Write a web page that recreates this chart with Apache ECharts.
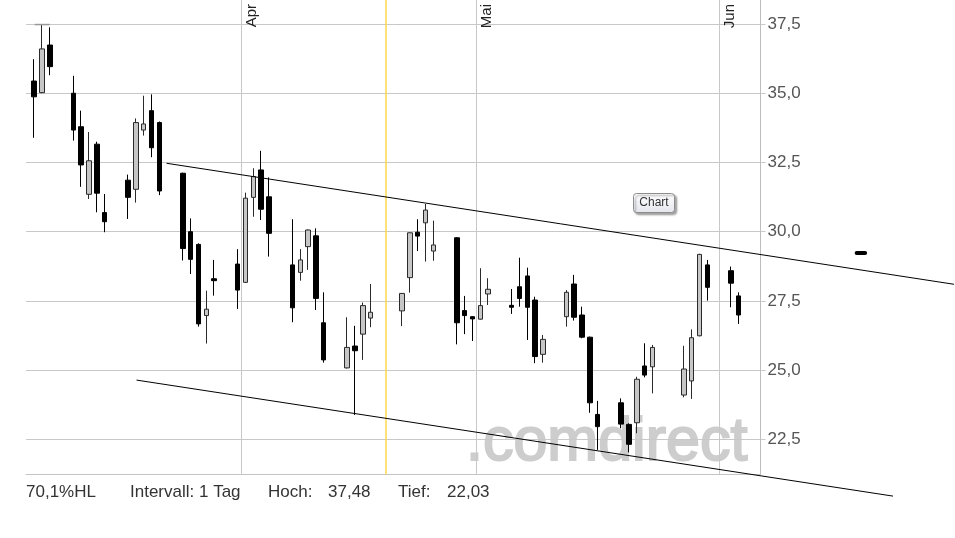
<!DOCTYPE html>
<html><head><meta charset="utf-8">
<script src="https://cdn.jsdelivr.net/npm/echarts@6/dist/echarts.min.js"></script>
<style>html,body{margin:0;padding:0;background:#fff}#c{width:955px;height:538px}</style>
</head><body><div id="c"></div><script>
// ---- data ----
const dates = ['2014-03-05','2014-03-06','2014-03-07',
 '2014-03-10','2014-03-11','2014-03-12','2014-03-13','2014-03-14',
 '2014-03-17','2014-03-18','2014-03-19','2014-03-20','2014-03-21',
 '2014-03-24','2014-03-25','2014-03-26','2014-03-27','2014-03-28',
 '2014-03-31','2014-04-01','2014-04-02','2014-04-03','2014-04-04',
 '2014-04-07','2014-04-08','2014-04-09','2014-04-10','2014-04-11',
 '2014-04-14','2014-04-15','2014-04-16','2014-04-17',
 '2014-04-21','2014-04-22','2014-04-23','2014-04-24','2014-04-25',
 '2014-04-28','2014-04-29','2014-04-30','2014-05-01','2014-05-02',
 '2014-05-05','2014-05-06','2014-05-07','2014-05-08','2014-05-09',
 '2014-05-12','2014-05-13','2014-05-14','2014-05-15','2014-05-16',
 '2014-05-19','2014-05-20','2014-05-21','2014-05-22','2014-05-23',
 '2014-05-27','2014-05-28','2014-05-29','2014-05-30',
 '2014-06-02','2014-06-03'];
const opens  = [35.44,35.02,36.74, 35.00,33.79,31.35,33.16,30.69, 31.86,31.53,33.67,34.37,33.94,
 32.11,30.00,29.54,26.97,28.30, 28.83,28.17,31.24,32.23,31.26, 28.80,28.53,29.46,29.85,26.71,
 25.08,25.87,26.30,26.88, 27.14,28.34,29.98,30.32,29.30, 29.78,27.15,26.93,26.84,27.75,
 27.34,28.01,28.40,27.53,25.57, 26.93,28.11,26.99,26.19,23.40, 23.82,23.04,23.10,25.15,25.12,
 24.10,24.61,26.24,28.80, 28.59,27.68];
const closes = [34.87,36.60,35.96, 33.67,32.41,32.56,31.39,30.36, 31.24,33.94,33.89,33.03,31.47,
 29.39,29.00,26.67,27.20,28.23, 27.89,31.21,31.99,30.81,29.94, 27.25,28.98,30.06,27.59,25.37,
 25.82,25.70,27.33,27.09, 27.77,29.96,29.84,30.78,29.52, 26.71,26.97,26.85,27.33,27.92,
 27.27,27.59,27.27,25.49,26.11, 27.81,26.91,26.19,23.82,22.96, 23.05,22.32,24.67,24.82,25.82,
 25.04,26.17,29.18,27.99, 28.14,26.99];
const lows   = [33.39,35.00,35.65, 33.29,31.62,31.18,30.70,29.98, 30.46,31.05,33.47,32.69,31.32,
 28.96,28.47,26.57,25.96,27.69, 27.21,28.15,30.54,30.42,29.10, 26.73,28.23,28.62,27.17,25.27,
 25.06,23.38,25.37,26.55, 26.59,27.80,29.30,28.92,28.95, 25.93,26.30,26.05,26.83,27.35,
 27.03,27.29,26.09,25.25,25.27, 26.57,26.79,26.15,23.46,22.12, 22.90,22.03,22.72,24.74,24.16,
 24.02,23.96,26.22,27.51, 27.27,26.67];
const highs  = [36.23,37.48,37.38, 35.63,34.37,33.60,33.25,31.36, 32.06,34.09,34.91,34.96,33.98,
 32.13,30.48,29.58,27.87,28.98, 29.37,31.41,32.29,32.92,31.96, 30.45,29.37,30.08,30.12,27.81,
 26.91,26.60,27.44,28.11, 27.78,29.97,30.45,31.00,30.40, 29.80,27.68,26.95,28.68,28.32,
 27.93,29.06,28.70,27.65,26.27, 27.89,28.44,27.29,26.21,23.89, 23.98,23.08,24.76,25.97,25.91,
 25.88,26.47,29.20,28.98, 28.74,27.81];
const monthDates  = ['2014-04-01','2014-05-01','2014-06-01'];
const monthLabels = ['Apr','Mai','Jun'];
const markerDate  = '2014-04-19 10:30';
const upperTrend  = [['2014-03-22 10:00', 32.47], ['2014-07-01 00:40', 28.10]];
const lowerTrend  = [['2014-03-18 14:00', 24.64], ['2014-06-23 05:30', 20.45]];
const drawnDash   = [['2014-06-18 14:00', 29.23], ['2014-06-19 16:00', 29.23]];
const highMark    = [['2014-03-05 14:00', 37.48], ['2014-03-07 12:00', 37.48]];
const footerTexts = ['70,1%HL', 'Intervall: 1 Tag', 'Hoch:', '37,48', 'Tief:', '22,03'];
const watermark   = '.comdirect';

// ---- helpers ----
const DAY = 864e5;
function ts(s){
  const m = s.match(/(\d+)-(\d+)-(\d+)(?:\s+(\d+):(\d+))?/);
  return new Date(+m[1], +m[2]-1, +m[3], +(m[4]||0), +(m[5]||0)).getTime();
}
const apr1 = ts('2014-04-01');
const xMin = apr1 - 27.54*DAY, xMax = apr1 + 66.30*DAY;
const PX = 27.69;                    // pixels per price unit in the reference
const TOP = -20, BOT = 474.5;        // plot top (off-canvas) and bottom edge
const yMin = 37.5 - (BOT - 24) / PX;
const yMax = 37.5 + (24 - TOP) / PX;
const W1 = 734.5, H1 = BOT - TOP;
// overlay plot covering the rest of the canvas, same scale
const W2 = 955 - 26, H2 = 540 - TOP;
const xMax2 = xMin + (xMax - xMin) * W2 / W1;
const yMin2 = yMax - H2 / PX;

const candles = dates.map((d,i)=>[ts(d)+12*3600e3, opens[i], closes[i], lows[i], highs[i]]);
const toPts = arr => arr.map(p=>[ts(p[0]), p[1]]);
const FONT = 'Liberation Sans, Arial, sans-serif';
const footerX = [26, 130, 268, 328, 398, 447];

const chart = echarts.init(document.getElementById('c'), null, {renderer:'canvas'});
chart.setOption({
  animation:false,
  backgroundColor:'#ffffff',
  grid:[{left:26, width:W1, top:TOP, height:H1, containLabel:false, outerBoundsMode:'none'},
        {left:26, width:W2, top:TOP, height:H2, containLabel:false, outerBoundsMode:'none'}],
  xAxis:[{type:'time', gridIndex:0, min:xMin, max:xMax,
    axisLabel:{show:false}, axisTick:{show:false}, splitLine:{show:false},
    axisLine:{show:true, lineStyle:{color:'#c4c4c4', width:1}}},
    {type:'time', gridIndex:1, min:xMin, max:xMax2, show:false}],
  yAxis:[{type:'value', gridIndex:0, position:'right', min:yMin, max:yMax, minInterval:2.5, maxInterval:2.5,
    axisLine:{show:true, lineStyle:{color:'#bdbdbd', width:1}},
    axisTick:{show:true, length:5, lineStyle:{color:'#c8c8c8'}},
    axisLabel:{showMinLabel:false, showMaxLabel:false, margin:7, color:'#555', fontSize:17,
      fontFamily:FONT, formatter:v=>v.toFixed(1).replace('.', ',')},
    splitLine:{show:true, lineStyle:{color:'#c8c8c8', width:1}}},
    {type:'value', gridIndex:1, min:yMin2, max:yMax, show:false, splitLine:{show:false}}],
  graphic:[
    {type:'text', z:0, left:465, top:412, silent:true,
      style:{text:watermark, font:'61px '+FONT, fill:'#cdcdcd', stroke:'#cdcdcd', lineWidth:2}},
    {type:'group', left:633, top:193, z:100, children:[
      {type:'rect', shape:{x:0,y:0,width:41,height:19,r:3},
        style:{fill:new echarts.graphic.LinearGradient(0,0,0,1,[{offset:0,color:'#ffffff'},{offset:1,color:'#e4e6ee'}]),
          stroke:'#8c8c8c', lineWidth:1, shadowBlur:2, shadowOffsetX:2, shadowOffsetY:2, shadowColor:'rgba(0,0,0,0.35)'}},
      {type:'text', x:20.5, y:9.5, style:{text:'Chart', font:'12px '+FONT, fill:'#333', align:'center', verticalAlign:'middle'}}
    ]}
  ].concat(footerTexts.map((t,i)=>({type:'text', x:footerX[i], y:492,
      style:{text:t, font:'17px '+FONT, fill:'#333', verticalAlign:'middle'}}))),
  series:[
    {type:'candlestick', name:'Kurs', xAxisIndex:0, yAxisIndex:0, data:candles, encode:{x:0, y:[1,2,3,4]},
      barWidth:5, silent:true,
      itemStyle:{color:'#c6c6c6', color0:'#000000', borderColor:'#2a2a2a', borderColor0:'#000000', borderWidth:1},
      markLine:{silent:true, symbol:['none','none'], animation:false,
        lineStyle:{color:'#c8c8c8', width:1, type:'solid'},
        label:{show:true, position:'insideEndBottom', formatter:'{b}', color:'#222', fontSize:15, fontFamily:FONT, distance:[24, 3]},
        data: monthDates.map((d,i)=>({name:monthLabels[i], xAxis:ts(d)})).concat([
          {name:'', xAxis:ts(markerDate), lineStyle:{color:'#ffd84d', width:1.5}, label:{show:false}}])
      }},
    {type:'line', name:'oben', xAxisIndex:1, yAxisIndex:1, data:toPts(upperTrend), showSymbol:false, symbol:'none', silent:true,
      lineStyle:{color:'#000', width:1}, z:5},
    {type:'line', name:'unten', xAxisIndex:1, yAxisIndex:1, data:toPts(lowerTrend), showSymbol:false, symbol:'none', silent:true,
      lineStyle:{color:'#000', width:1}, z:5},
    {type:'line', name:'strich', xAxisIndex:1, yAxisIndex:1, data:toPts(drawnDash), showSymbol:false, symbol:'none', silent:true,
      lineStyle:{color:'#000', width:4, cap:'round'}, z:5},
    {type:'line', name:'hoch', xAxisIndex:1, yAxisIndex:1, data:toPts(highMark), showSymbol:false, symbol:'none', silent:true,
      lineStyle:{color:'#999', width:1.5}, z:4}
  ]
});
</script></body></html>
